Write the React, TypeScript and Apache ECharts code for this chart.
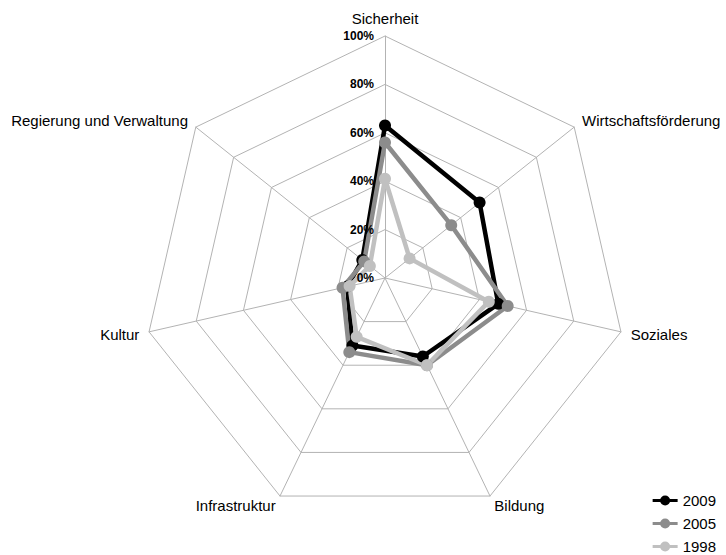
import React, { useEffect, useRef } from 'react';
import * as echarts from 'echarts';

// Categories listed clockwise starting from the top axis
const categories = [
  'Sicherheit',
  'Wirtschaftsförderung',
  'Soziales',
  'Bildung',
  'Infrastruktur',
  'Kultur',
  'Regierung und Verwaltung',
];
const years = ['2009', '2005', '1998'];
const values2009 = [63, 50, 48, 36, 31, 16, 12];
const values2005 = [56, 35, 52, 40, 34, 18, 11];
const values1998 = [41, 13, 44, 40, 27, 15, 8];
const seriesValues = [values2009, values2005, values1998];
const seriesColors = ['#000000', '#8c8c8c', '#c0c0c0'];
const axisMin = 0;
const axisMax = 100;
const axisSplits = 5;

// ECharts lays radar indicators out counter-clockwise; reorder clockwise lists.
const ccw = <T,>(arr: T[]): T[] => [arr[0], ...arr.slice(1).reverse()];

const legendIcon =
  'path://M0,3.6L7.7,3.6L7.7,6.4L0,6.4Z M17.3,3.6L25,3.6L25,6.4L17.3,6.4Z M7.5,5A5,5 0 1 1 17.5,5A5,5 0 1 1 7.5,5Z';

export default function App() {
  const ref = useRef<HTMLDivElement>(null);
  useEffect(() => {
    if (!ref.current) return;
    const chart = echarts.init(ref.current, undefined, { renderer: 'svg' });
    const font = '"Liberation Sans", Arial, sans-serif';
    const center = [385, 278];
    const radius = 242;
    chart.setOption({
      animation: false,
      backgroundColor: '#ffffff',
      textStyle: { fontFamily: font },
      radar: [
        {
          center,
          radius,
          startAngle: 90,
          splitNumber: axisSplits,
          shape: 'polygon',
          nameGap: 10,
          z: 0,
          axisName: { color: '#000000', fontSize: 15, fontFamily: font },
          indicator: ccw(categories).map((name) => ({ name, min: axisMin, max: axisMax })),
          splitLine: { lineStyle: { color: '#b3b3b3', width: 1 } },
          splitArea: { show: false },
          axisLine: { lineStyle: { color: '#b3b3b3', width: 1 } },
          axisTick: { show: false },
          axisLabel: { show: false },
        },
        {
          // overlay radar that only carries the percentage tick labels above the series
          center,
          radius,
          startAngle: 90,
          splitNumber: axisSplits,
          shape: 'polygon',
          z: 10,
          axisName: { show: false },
          indicator: ccw(categories).map((name, i) => {
            const ind: any = { name, min: axisMin, max: axisMax };
            if (i === 0) {
              ind.axisLabel = {
                show: true,
                formatter: '{value}%',
                color: '#000000',
                fontSize: 12,
                fontWeight: 'bold',
                fontFamily: font,
                margin: 11,
              };
            }
            return ind;
          }),
          splitLine: { show: false },
          splitArea: { show: false },
          axisLine: { show: false },
          axisTick: { show: false },
          axisLabel: { show: false },
        },
      ],
      legend: {
        data: years,
        orient: 'vertical',
        right: 5,
        bottom: -4,
        itemWidth: 25,
        itemHeight: 10,
        itemGap: 8,
        icon: legendIcon,
        textStyle: { color: '#000000', fontSize: 15, fontFamily: font },
      },
      series: years.map((year, i) => ({
        type: 'radar',
        name: year,
        radarIndex: 0,
        symbol: 'circle',
        symbolSize: 12,
        lineStyle: { width: 4.5, color: seriesColors[i] },
        itemStyle: { color: seriesColors[i] },
        data: [{ name: year, value: ccw(seriesValues[i]) }],
      })),
    });
    return () => chart.dispose();
  }, []);
  return (
    <div
      ref={ref}
      style={{ position: 'fixed', left: 0, top: 0, width: 726, height: 555 }}
    />
  );
}
